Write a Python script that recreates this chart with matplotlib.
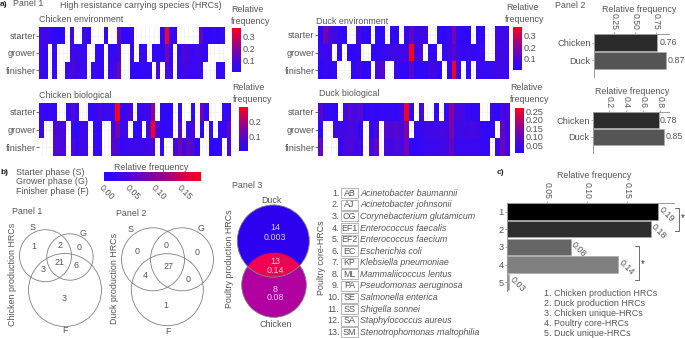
import numpy as np
import matplotlib
matplotlib.use('Agg')
import matplotlib.pyplot as plt
from matplotlib.colors import LinearSegmentedColormap
from matplotlib.patches import Circle, Rectangle

plt.rcParams['font.family'] = ['Liberation Sans', 'DejaVu Sans']

W, H = 685, 338
GREY = '#555555'
phases = ['starter', 'grower', 'finisher']

# heatmaps, 0 means the species is absent
chicken_env = [
    [.07,.07,.06,.02,.02,.02,0,.07,0,0,.06,.03,0,0,0,.03,0,0,.14,.03,.03,.07,0,0,0,0,0,0,.03,.37,.05,.04,0,0,0,0,0,.13,.03,.03,.05,.03,.05],
    [.06,.04,0,.04,0,0,0,.08,.05,.05,.05,0,0,.04,.04,0,.04,.05,.09,0,0,.04,0,.04,.05,0,.03,.04,.03,.17,.04,0,.04,.1,.08,.05,.08,.06,.04,0,0,0,0],
    [.05,.04,0,.04,0,0,.05,.1,.07,.06,.05,0,.05,.05,.04,0,.06,.08,.15,0,0,.03,.03,.04,.04,.04,0,.09,0,.1,.06,0,.04,.08,.07,.05,.07,.05,0,0,0,.04,.04],
]
duck_env = [
    [.03,.16,.09,.08,.04,.03,0,0,.09,.03,.03,0,.02,.02,0,.03,.03,0,.03,.13,.05,.07,.07,0,0,.04,.02,.05,.17,.04,.03,.03,0,.03,.03,0,0,.08,.05,.07],
    [.05,.06,.05,0,.03,0,.03,.03,.04,0,0,.03,.03,.04,.06,.07,.07,.07,.05,.37,.05,.09,0,.04,.04,0,.04,.07,.12,.06,.04,.06,.04,.05,.05,0,0,.08,.07,.06],
    [.03,.06,.03,.04,0,0,0,.03,.08,.03,.03,0,.09,.12,0,0,.05,.03,.03,.12,.02,.03,.03,.08,.07,.02,0,.03,.37,.05,0,.02,0,.05,.05,.05,.05,.08,.07,.06],
]
chicken_bio = [
    [.04,.03,.04,.02,0,0,.03,.09,.04,0,0,.03,.03,.07,.04,.05,.04,.3,.03,.05,.07,0,.04,.05,.06,.17,0,.03,.02,.02,0,.03,0,0,.02,0,.12,.03,0,0,0,.03,.03],
    [.05,0,0,.08,.07,.07,0,.03,.02,.05,.05,0,.03,.03,0,0,.06,.14,.04,.05,0,.02,.02,0,.06,.3,.07,.03,.03,.03,0,.09,0,.04,.07,0,.02,0,.03,0,.03,.04,.1],
    [0,0,0,.08,.08,.07,0,.07,.03,.06,.05,0,.03,.03,0,0,.09,.08,.03,.04,.05,.05,.05,.05,.06,.07,0,.03,0,0,.06,.13,.06,.1,.08,.02,0,0,.02,.02,.03,0,.07],
]
duck_bio = [
    [.08,.03,.03,.02,0,.05,.08,.06,.08,.02,.03,.02,.03,.03,.03,.02,.05,.26,.01,0,.05,0,0,.02,0,.03,.14,.06,.06,.03,.03,.03,0,0,.04,.01,.06,.06],
    [.01,0,0,.05,.05,.05,.06,.06,.02,0,.03,.06,0,.08,.07,.08,.07,.13,0,.03,.03,.05,.05,.05,.06,.05,.12,.05,.05,.05,.06,.05,.03,.02,.03,0,.1,.05],
    [.1,0,0,0,.03,.06,.07,.05,.05,0,.05,.1,0,.06,.05,.07,.06,.12,.02,.02,.03,.04,.04,.04,.05,.05,.1,.04,.04,.04,.04,.04,.03,.03,0,.03,.11,.05],
]

panel2_labels = ['Chicken', 'Duck']
panel2_env = [0.76, 0.87]
panel2_bio = [0.78, 0.85]
bar_colors2 = ['#2b2b2b', '#555555']

overall_cats = ['1', '2', '3', '4', '5']
overall_vals = [0.189, 0.18, 0.08, 0.139, 0.003]
overall_text = ['0.19', '0.18', '0.08', '0.14', '0.03']
overall_colors = ['#000000', '#2e2e2e', '#666666', '#808080', '#999999']
overall_legend = ['1. Chicken production HRCs', '2. Duck production HRCs', '3. Chicken unique-HRCs',
                  '4. Poultry core-HRCs', '5. Duck unique-HRCs']

abbrevs = ['AB', 'AJ', 'CG', 'EF1', 'EF2', 'EC', 'KP', 'ML', 'PA', 'SE', 'SS', 'SA', 'SM']
species = ['Acinetobacter baumannii', 'Acinetobacter johnsonii', 'Corynebacterium glutamicum',
           'Enterococcus faecalis', 'Enterococcus faecium', 'Escherichia coli', 'Klebsiella pneumoniae',
           'Mammaliicoccus lentus', 'Pseudomonas aeruginosa', 'Salmonella enterica', 'Shigella sonnei',
           'Staphylococcus aureus', 'Stenotrophomonas maltophilia']

cmap = LinearSegmentedColormap.from_list('blue_red', ['#2a08ff', '#ff0018'], gamma=1.3)

fig = plt.figure(figsize=(W / 100, H / 100), dpi=100)


def px_axes(x0, y0, x1, y1):
    return fig.add_axes([x0 / W, 1 - y1 / H, (x1 - x0) / W, (y1 - y0) / H])


def heatmap(box, data, vmin, vmax):
    ax = px_axes(*box)
    arr = np.array(data, dtype=float)
    ax.pcolormesh(np.ma.masked_equal(arr, 0), cmap=cmap, vmin=vmin, vmax=vmax, zorder=3)
    ax.set_ylim(3, 0)
    ax.set_xticks(np.arange(arr.shape[1]) + 0.5)
    ax.set_yticks([0.5, 1.5, 2.5])
    ax.set_yticklabels(phases, fontsize=6.7, color=GREY)
    ax.tick_params(axis='x', length=0, labelbottom=False)
    ax.tick_params(axis='y', length=2, width=0.6, color=GREY, pad=0.5)
    ax.grid(color='#f0f0f0', linewidth=0.5, zorder=0)
    ax.set_axisbelow(True)
    for s in ax.spines.values():
        s.set_visible(False)


def colorbar(box, vmin, vmax, ticks, labels):
    ax = px_axes(*box)
    grad = np.linspace(vmin, vmax, 128).reshape(-1, 1)
    ax.imshow(grad, origin='lower', aspect='auto', cmap=cmap, vmin=vmin, vmax=vmax,
              extent=[0, 1, vmin, vmax])
    ax.set_xticks([])
    ax.yaxis.tick_right()
    ax.set_yticks(ticks)
    ax.set_yticklabels(labels, fontsize=6.6, color=GREY)
    ax.tick_params(axis='y', length=0, pad=1.5)
    for s in ax.spines.values():
        s.set_visible(False)


def hbars(box, labels, vals, colors, xlim, ticks, ticklabels, pad=0):
    ax = px_axes(*box)
    y = np.arange(len(vals))
    ax.barh(y, vals, height=0.94, color=colors, edgecolor='#aaaaaa', linewidth=0.5)
    ax.set_xlim(*xlim)
    ax.set_ylim(len(vals) - 0.5 + pad, -0.5)
    ax.xaxis.tick_top()
    ax.set_xticks(ticks)
    ax.set_xticklabels(ticklabels, rotation=-90, fontsize=6.2, color=GREY)
    ax.set_yticks(y)
    ax.set_yticklabels(labels, fontsize=6.7, color=GREY)
    ax.tick_params(axis='x', length=1.5, width=0.5, color='#888888', pad=1)
    ax.tick_params(axis='y', length=1.5, width=0.5, color='#888888', pad=0.5)
    for s in ['right', 'bottom']:
        ax.spines[s].set_visible(False)
    for s in ['top', 'left']:
        ax.spines[s].set_color('#999999')
        ax.spines[s].set_linewidth(0.7)
    return ax


heatmap((39.3, 27, 225, 79), chicken_env, 0.008, 0.375)
heatmap((318, 26, 509, 79), duck_env, 0.008, 0.367)
heatmap((39.3, 103, 231, 156), chicken_bio, 0.005, 0.3)
heatmap((318, 103, 510, 156), duck_bio, 0.003, 0.268)

colorbar((232, 28, 241, 72), 0.008, 0.375, [0.1, 0.2, 0.3], ['0.1', '0.2', '0.3'])
colorbar((513, 27, 522, 70), 0.008, 0.367, [0.1, 0.2, 0.3], ['0.1', '0.2', '0.3'])
colorbar((239, 107, 247, 151), 0.005, 0.3, [0.1, 0.2], ['0.1', '0.2'])
colorbar((515, 108, 524, 153), 0.003, 0.268, [0.05, 0.1, 0.15, 0.2, 0.25], ['0.05', '0.10', '0.15', '0.20', '0.25'])

# panel 2 bars
ax = hbars((593.5, 33.7, 669, 77), panel2_labels, panel2_env, bar_colors2, (0, 0.9),
           [0.25, 0.5, 0.75], ['0.25', '0.50', '0.75'], pad=0.45)
for i, v in enumerate(panel2_env):
    ax.text(v + [0.03, 0.01][i], i, f'{v:.2f}', fontsize=6.4, color=GREY, va='center', clip_on=False)
ax = hbars((592.5, 111.7, 668.7, 153), panel2_labels, panel2_bio, bar_colors2, (0, 0.9),
           [0.2, 0.4, 0.6, 0.8], ['0.2', '0.4', '0.6', '0.8'], pad=0.45)
for i, v in enumerate(panel2_bio):
    ax.text(v + 0.01, i, f'{v:.2f}', fontsize=6.4, color=GREY, va='center', clip_on=False)

# c) bars
ax = hbars((506.7, 202.7, 674, 291), overall_cats, overall_vals, overall_colors, (0, 0.209),
           [0.05, 0.1, 0.15], ['0.05', '0.10', '0.15'])
for i, v in enumerate(overall_vals):
    ax.annotate(overall_text[i], (v, i - 0.2), xytext=(1.5, 0), textcoords='offset points', fontsize=6.4, color=GREY,
                rotation=-45, rotation_mode='anchor', va='center', ha='left', annotation_clip=False)

# overlay in pixel coordinates for the free text and venn circles
ov = fig.add_axes([0, 0, 1, 1], zorder=5)
ov.set_xlim(0, W)
ov.set_ylim(H, 0)
ov.axis('off')
ov.patch.set_alpha(0)


def T(x, y, s, size=6.4, ha='left', color=GREY, **kw):
    ov.text(x, y, s, fontsize=size, ha=ha, va='center', color=color, **kw)


T(0, 4, 'a)', weight='bold', color='#222222', size=6)
T(13, 4, 'Panel 1')
T(60, 5, 'High resistance carrying species (HRCs)')
T(231, 10, 'Relative')
T(231, 21, 'frequency')
T(39, 20, 'Chicken environment')
T(506, 8, 'Relative')
T(505, 19, 'frequency')
T(316, 21, 'Duck environment')
T(232, 87, 'Relative')
T(232.5, 99, 'frequency')
T(39, 96, 'Chicken biological')
T(319, 94, 'Duck biological')
T(510, 88, 'Relative')
T(510, 100, 'frequency')
T(555.5, 5, 'Panel 2')
T(638.7, 10, 'Relative frequency', ha='center')
T(632, 91, 'Relative frequency', ha='center')

# b)
T(0, 172, 'b)', weight='bold', color='#222222', size=6)
T(16, 172.7, 'Starter phase (S)')
T(16, 182, 'Grower phase (G)')
T(16, 191.7, 'Finisher phase (F)')
T(150.7, 167, 'Relative frequency', ha='center')
T(12, 212, 'Panel 1')
T(116, 214, 'Panel 2')
T(13, 274, 'Chicken production HRCs', rotation=90, ha='center')
T(115, 278, 'Duck production HRCs', rotation=90, ha='center')

cax = px_axes(104, 172.3, 200.7, 180.7)
cax.imshow(np.linspace(0, 0.188, 128).reshape(1, -1), aspect='auto', cmap=cmap, vmin=0, vmax=0.188,
           extent=[0, 0.188, 0, 1])
cax.set_yticks([])
cax.set_xticks([0, 0.05, 0.1, 0.15])
cax.set_xticklabels(['0.00', '0.05', '0.10', '0.15'], rotation=-45, ha='left', rotation_mode='anchor',
                    fontsize=6.4, color=GREY)
cax.tick_params(axis='x', length=0, pad=2)
for s in cax.spines.values():
    s.set_visible(False)


def ring(x, y, r):
    ov.add_patch(Circle((x, y), r, fill=False, edgecolor='#808080', linewidth=0.6))


for c in [(45.5, 255.7, 26), (70, 257, 23.2), (65, 290, 36.5), (153, 259.3, 31.5), (182, 259.3, 31.5), (167.3, 289.7, 36)]:
    ring(*c)
for x, y, s in [(33, 227.7, 'S'), (83.3, 233.3, 'G'), (79, 247, '0'), (34, 246.7, '1'), (60, 245, '2'),
                (42.7, 270, '3'), (59.3, 262.7, '21'), (75.7, 266, '6'), (64.3, 298.3, '3'), (65, 330.7, 'F'),
                (131, 229.3, 'S'), (200.7, 228.3, 'G'), (136.7, 251, '0'), (165.7, 246, '0'), (196.7, 252.7, '0'),
                (145, 276, '4'), (168.3, 266.7, '27'), (187.7, 279.3, '0'), (165.7, 305, '1'), (167.7, 331, 'F')]:
    T(x, y, s, ha='center')

# panel 3 venn
duck_c = Circle((273.3, 241), 36, facecolor='#2d00f0', edgecolor='#808080', linewidth=0.6)
chick_c = Circle((274, 285), 32.3, facecolor='#b000a0', edgecolor='#808080', linewidth=0.6)
ov.add_patch(chick_c)
ov.add_patch(duck_c)
both = Circle((273.3, 241), 36, facecolor='#f00050', edgecolor='#808080', linewidth=0.6)
ov.add_patch(both)
both.set_clip_path(Circle((274, 285), 32.3, transform=ov.transData))
for x, y, s, c in [(275, 228, '14', '#d8d0ff'), (275, 237.7, '0.003', '#d8d0ff'), (275, 261, '13', '#ffd0e0'),
                   (275, 270.3, '0.14', '#ffd0e0'), (275, 289, '8', '#f8c8f0'), (275, 297.7, '0.08', '#f8c8f0')]:
    T(x, y, s, ha='center', color=c)
T(231.7, 185.7, 'Panel 3')
T(271.7, 200.7, 'Duck', ha='center')
T(275.7, 324.3, 'Chicken', ha='center')
T(230, 259, 'Poultry production HRCs', rotation=90, ha='center')
T(321.7, 258, 'Poultry core-HRCs', rotation=90, ha='center')

for i, (ab, sp) in enumerate(zip(abbrevs, species)):
    y = 193.3 + i * 11.58
    T(339.5, y, f'{i + 1}.', ha='right')
    ov.add_patch(Rectangle((341, y - 5), 16.7, 10, fill=False, edgecolor='#aaaaaa', linewidth=0.6))
    T(349.4, y, ab, ha='center')
    T(360.3, y, sp, style='italic')

# c) text
T(497, 173, 'c)', weight='bold', color='#222222', size=6)
T(594, 175, 'Relative frequency', ha='center')
for i, s in enumerate(overall_legend):
    T(544, 293.5 + i * 9.95, s)
for pts, x_star, y_star in [([(675.3, 207.7), (679.3, 207.7), (679.3, 230.7), (675.3, 230.7)], 682.7, 218.3),
                            ([(635, 245.7), (639.3, 245.7), (639.3, 280), (635, 280)], 642.7, 264)]:
    ov.plot(*zip(*pts), color='#555555', linewidth=0.6)
    T(x_star, y_star, '*', ha='center', size=7, color='#333333')

fig.savefig('out.png', dpi=100)
